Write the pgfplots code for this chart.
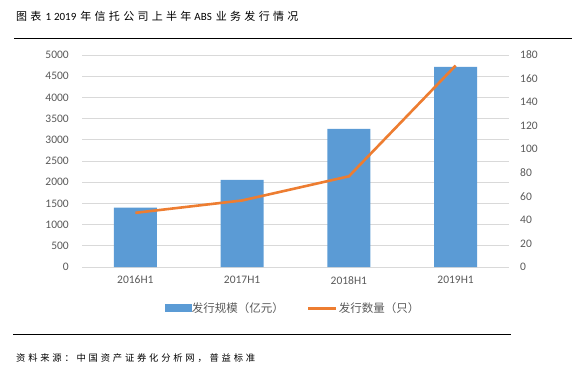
\documentclass[border=0pt]{standalone}
\usepackage{pgfplots}
\pgfplotsset{compat=1.18}
\usepackage{fontspec}
\setmainfont{Carlito}
\newfontfamily\cjk{Noto Sans CJK SC}
\newfontfamily\cjkspaced[LetterSpace=30]{Noto Sans CJK SC}
\definecolor{barblue}{HTML}{5B9BD5}
\definecolor{lineorange}{HTML}{ED7D31}
\definecolor{gridgray}{HTML}{D9D9D9}
\definecolor{ticktext}{HTML}{595959}
\begin{document}
\begin{tikzpicture}[x=1pt,y=1pt]
\useasboundingbox (0,0) rectangle (585,375);
\node[anchor=west,inner sep=0pt] at (16,359) {\fontsize{11}{12}\selectfont{\cjkspaced 图表}\hspace{4pt}1\hspace{3pt}2019\hspace{4pt}{\cjkspaced 年信托公司上半年}\hspace{3pt}ABS\hspace{4pt}{\cjkspaced 业务发行情况}};
\draw[line width=1pt] (14,336) -- (572,336);
\draw[line width=1pt] (13,41) -- (511,41);
\node[anchor=west,inner sep=0pt] at (16,17) {\cjkspaced\fontsize{9.3}{11}\selectfont 资料来源：中国资产证券化分析网，普益标准};

\begin{axis}[
  at={(82pt,108pt)}, anchor=south west, scale only axis,
  width=427pt, height=212pt,
  xmin=-0.5, xmax=3.5, ymin=0, ymax=5000,
  ytick={0,500,...,5000},
  xtick={0,1,2,3},
  xticklabels={2016H1,2017H1,2018H1,2019H1},
  axis line style={draw=none},
  tick style={draw=none},
  ymajorgrids,
  grid style={gridgray,line width=0.8pt},
  tick label style={font=\fontsize{11.5}{13}\selectfont, text=ticktext, inner sep=0pt},
  yticklabel style={xshift=-13pt},
  xticklabel style={yshift=-9pt},
  scaled y ticks=false,
  /pgf/number format/assume math mode=true,
  /pgf/number format/1000 sep={},
]
\addplot[ybar, bar width=43pt, fill=barblue, draw=none] coordinates {(0,1400) (1,2055) (2,3260) (3,4720)};
\end{axis}

\begin{axis}[
  at={(82pt,108pt)}, anchor=south west, scale only axis,
  width=427pt, height=212pt,
  xmin=-0.5, xmax=3.5, ymin=0, ymax=180,
  ytick={0,20,...,180},
  axis y line*=right,
  hide x axis,
  axis line style={draw=none},
  tick style={draw=none},
  tick label style={font=\fontsize{11.5}{13}\selectfont, text=ticktext, inner sep=0pt},
  yticklabel style={anchor=west, xshift=11pt},
  /pgf/number format/assume math mode=true,
  legend style={at={(rel axis cs:0.5,0)}, anchor=center, yshift=-41pt, xshift=-3pt, draw=none, fill=none,
    legend columns=2, font=\cjk\fontsize{11.5}{13}\selectfont, text=ticktext,
    /tikz/every even column/.append style={column sep=22pt},
    nodes={inner sep=1pt}},
]
\addlegendimage{legend image code/.code={\fill[barblue] (0pt,-3.5pt) rectangle (26pt,3.5pt);}}
\addlegendentry{发行规模（亿元）}
\addplot[lineorange, line width=2.6pt, mark=none, legend image code/.code={\draw[lineorange,line width=3pt] (0pt,0pt) -- (28pt,0pt);}] coordinates {(0,46) (1,56.5) (2,77) (3,171)};
\addlegendentry{发行数量（只）}
\end{axis}
\end{tikzpicture}
\end{document}
